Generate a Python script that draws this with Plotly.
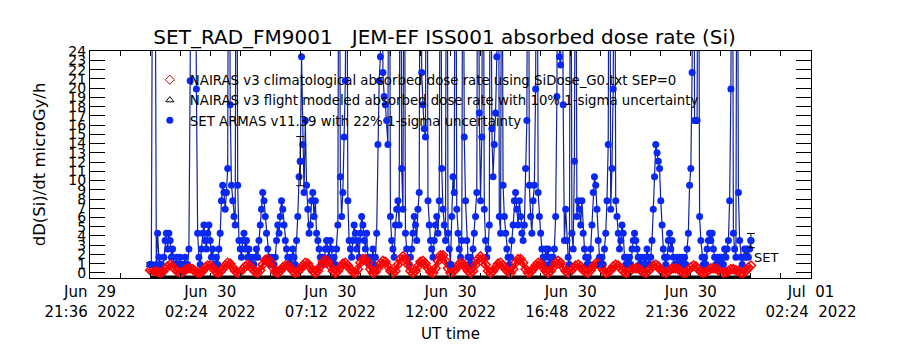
import pandas as pd
import plotly.graph_objects as go

# ---------------- data ----------------
# NAIRAS v3 climatological absorbed dose rate, 6-minute samples from Jun 30 00:00
clim_start = "2022-06-30 00:00"
clim_step = "6min"
clim_dose = [
    0.3, 0.3, 0.2, 0.1, 0.0, 0.1, 0.4, 0.7, 0.9, 0.7,
    0.4, 0.1, 0.0, 0.1, 0.3, 0.5, 0.5, 0.4, 0.2, 0.0,
    0.0, 0.2, 0.6, 0.8, 0.8, 0.6, 0.2, 0.0, 0.1, 0.4,
    0.8, 1.1, 1.0, 0.6, 0.2, 0.0, 0.1, 0.4, 0.7, 0.9,
    0.7, 0.4, 0.1, 0.0, 0.3, 0.9, 1.4, 1.5, 1.2, 0.6,
    0.1, 0.0, 0.2, 0.6, 0.8, 0.8, 0.6, 0.2, 0.0, 0.1,
    0.4, 0.8, 1.1, 1.0, 0.6, 0.2, 0.0, 0.2, 0.7, 1.2,
    1.4, 1.2, 0.7, 0.2, 0.0, 0.2, 0.6, 1.0, 1.1, 0.8,
    0.4, 0.1, 0.0, 0.4, 1.1, 1.5, 1.5, 1.1, 0.4, 0.0,
    0.1, 0.5, 1.0, 1.3, 1.2, 0.7, 0.2, 0.0, 0.2, 0.9,
    1.5, 1.8, 1.5, 0.9, 0.2, 0.0, 0.2, 0.7, 1.2, 1.3,
    1.0, 0.5, 0.1, 0.0, 0.5, 1.3, 1.9, 1.9, 1.3, 0.5,
    0.0, 0.1, 0.4, 0.8, 1.1, 1.0, 0.6, 0.2, 0.0, 0.2,
    0.9, 1.5, 1.8, 1.5, 0.9, 0.2, 0.0, 0.2, 0.6, 1.0,
    1.1, 0.8, 0.4, 0.1, 0.0, 0.4, 1.1, 1.5, 1.5, 1.1,
    0.4, 0.0, 0.1, 0.4, 0.8, 1.1, 1.0, 0.6, 0.2, 0.0,
    0.2, 0.6, 1.1, 1.3, 1.1, 0.6, 0.2, 0.0, 0.2, 0.5,
    0.8, 0.9, 0.7, 0.3, 0.1, 0.0, 0.3, 0.7, 1.0, 1.0,
    0.7, 0.3, 0.0, 0.1, 0.3, 0.7, 0.9, 0.8, 0.5, 0.2,
    0.0, 0.1, 0.3, 0.5, 0.5, 0.5, 0.3, 0.1, 0.0, 0.2,
    0.5, 0.8, 0.9, 0.7, 0.3, 0.1, 0.0, 0.2, 0.4, 0.5,
    0.5, 0.4, 0.2, 0.0, 0.0, 0.3, 0.6, 0.8, 0.7, 0.4,
    0.1, 0.0, 0.1, 0.3, 0.5, 0.5, 0.5, 0.3, 0.1, 0.0,
    0.1, 0.2, 0.4, 0.4, 0.3, 0.2, 0.0, 0.0, 0.2, 0.6,
    0.8,
]

# SET ARMAS v11.39 absorbed dose rate, 3-minute samples from Jun 30 00:00
set_start = "2022-06-30 00:00"
set_step = "3min"
set_dose = [
    0.9, 0.9, 40, 45, 40, 0.9, 4.3, 1.7, 0.9, 0.9, 0, 1.7, 3.5, 4.3, 2.6, 4.3, 3.5, 1.7, 2.6, 0.9,
    0.9, 1.7, 0.9, 0.9, 1.7, 0.9, 0, 0.9, 1.7, 0.9, 0.9, 2.6, 20.8, 50, 55, 50, 45, 19.9, 4.3, 1.7,
    0.9, 2.6, 4.3, 5.2, 3.5, 2.6, 4.3, 5.2, 3.5, 1.7, 2.6, 0.9, 0.9, 1.7, 0.9, 2.6, 4.3, 7.8, 9.5, 8.7,
    6.9, 8.7, 11.3, 60, 18.2, 9.5, 7.8, 6.1, 5.2, 60, 9.5, 3.5, 2.6, 1.7, 3.5, 4.3, 2.6, 3.5, 1.7, 2.6,
    0.9, 1.7, 0.9, 0.9, 1.7, 2.6, 1.7, 3.5, 5.2, 6.9, 8.7, 7.8, 6.1, 4.3, 2.6, 1.7, 0.9, 1.7, 0.9, 0.9,
    1.7, 3.5, 5.2, 4.3, 6.1, 7.8, 6.9, 5.2, 3.5, 2.6, 1.7, 0.9, 1.7, 0.9, 2.6, 1.7, 0.9, 3.5, 6.1, 10.4,
    12.1, 23.4, 13.9, 8.7, 16.5, 9.5, 6.9, 4.3, 5.2, 7.8, 8.7, 6.1, 7.8, 4.3, 3.5, 2.6, 1.7, 0.9, 1.7, 0.9,
    2.6, 3.5, 2.6, 1.7, 3.5, 2.6, 0.9, 1.7, 0.9, 2.6, 5.2, 55, 10.4, 6.1, 8.7, 14.7, 20.8, 50, 7.8, 3.5,
    2.6, 1.7, 3.5, 5.2, 4.3, 2.6, 3.5, 1.7, 4.3, 6.1, 5.2, 3.5, 2.6, 4.3, 1.7, 0.9, 1.7, 0.9, 2.6, 0.9,
    1.7, 4.3, 13.9, 20.8, 23.4, 60, 21.7, 19.1, 18.2, 16.5, 13.9, 55, 6.1, 3.5, 2.6, 1.7, 5.2, 6.9, 7.8, 5.2,
    60, 11.3, 6.9, 50, 4.3, 2.6, 1.7, 0.9, 1.7, 2.6, 4.3, 6.1, 5.2, 3.5, 6.9, 8.7, 55, 21.7, 18.2, 15.6,
    14.7, 60, 7.8, 5.2, 3.5, 2.6, 1.7, 3.5, 5.2, 6.1, 4.3, 7.8, 50, 11.3, 6.9, 5.2, 3.5, 60, 4.3, 2.6,
    0.9, 6.1, 10.4, 8.7, 60, 6.9, 4.3, 2.6, 1.7, 3.5, 50, 14.7, 7.8, 3.5, 1.7, 0.9, 1.7, 0.9, 2.6, 4.3,
    6.1, 8.7, 55, 17.3, 7.8, 14.7, 50, 6.9, 3.5, 1.7, 2.6, 5.2, 55, 15.6, 10.4, 13.9, 17.3, 23.4, 60, 6.1,
    4.3, 50, 9.5, 6.1, 4.3, 2.6, 1.7, 0.9, 1.7, 3.5, 5.2, 7.8, 8.7, 6.9, 5.2, 7.8, 6.1, 4.3, 3.5, 5.2,
    11.3, 16.5, 60, 9.5, 6.1, 4.3, 7.8, 9.5, 19.9, 55, 8.7, 6.1, 4.3, 2.6, 1.7, 0.9, 2.6, 1.7, 2.6, 0.9,
    1.7, 0.9, 1.7, 2.6, 6.1, 19.1, 60, 23.4, 22.5, 55, 18.2, 3.5, 6.9, 3.5, 1.7, 0.9, 55, 4.3, 2.6, 12.1,
    50, 6.1, 7.8, 6.9, 5.2, 7.8, 4.3, 2.6, 1.7, 0.9, 1.7, 0.9, 2.6, 5.2, 8.7, 10.4, 9.5, 6.9, 3.5, 1.7,
    0.9, 1.7, 0.9, 2.6, 4.3, 7.8, 13.9, 60, 6.9, 11.3, 19.9, 55, 7.8, 6.1, 4.3, 2.6, 3.5, 5.2, 4.3, 1.7,
    0.9, 1.7, 0.9, 1.7, 0.9, 2.6, 3.5, 4.3, 3.5, 2.6, 1.7, 0.9, 1.7, 0.9, 0.9, 1.7, 0.9, 2.6, 1.7, 0.9,
    1.7, 3.5, 6.9, 10.4, 13.9, 13.0, 12.1, 11.3, 7.8, 5.2, 2.6, 1.7, 0.9, 1.7, 3.5, 4.3, 2.6, 3.5, 1.7, 0.9,
    0.9, 1.7, 0.9, 1.7, 0.9, 1.7, 0.9, 1.7, 0.9, 2.6, 4.3, 9.5, 11.3, 21.7, 60, 16.5, 16.5, 16.5, 55, 6.1,
    3.5, 1.7, 0.9, 1.7, 0.9, 2.6, 3.5, 4.3, 3.5, 4.3, 2.6, 1.7, 0.9, 1.7, 0.9, 1.7, 0.9, 1.7, 0.9, 2.6,
    1.7, 2.6, 3.5, 7.8, 19.9, 60, 4.3, 2.6, 1.7, 55, 8.7, 3.5, 1.7, 0.9, 1.7, 2.6, 1.7, 2.6, 1.7, 2.6,
    3.5,
]

# NAIRAS v3 flight modeled absorbed dose rate, hourly samples (sits on the lower axis)
flight_start = "2022-06-30 00:00"
flight_step = "1h"
flight_dose = [
    -0.45, -0.45, -0.45, -0.45, -0.45, -0.45, -0.45, -0.45, -0.45, -0.45,
    -0.45, -0.45, -0.45, -0.45, -0.45, -0.45, -0.45, -0.45, -0.45, -0.45,
    -0.45, -0.45, -0.45, -0.45, -0.45,
]

# SET samples that carry 1-sigma error bars
set_err_times = ["2022-06-30 00:00", "2022-06-30 06:00", "2022-06-30 12:00",
                 "2022-06-30 18:00", "2022-07-01 00:00"]
set_sigma = 0.22

x_range = ["2022-06-29 21:36", "2022-07-01 02:24"]
y_range = [-0.55, 24.02]

legend_labels = [
    "NAIRAS v3 climatological absorbed dose rate using SiDose_G0.txt SEP=0",
    "NAIRAS v3 flight modeled absorbed dose rate with 10% 1-sigma uncertainty",
    "SET ARMAS v11.39 with 22% 1-sigma uncertainty",
]
title_text = "SET_RAD_FM9001\u00a0\u00a0\u00a0JEM-EF ISS001 absorbed dose rate (Si)"

# ---------------- styling ----------------
FONT = "DejaVu Sans"
RED = "#ff0000"
BLUE_MARK = "#0a28f5"
BLUE_LINE = "#12239a"

clim_t = pd.date_range(clim_start, periods=len(clim_dose), freq=clim_step)
set_t = pd.date_range(set_start, periods=len(set_dose), freq=set_step)
flight_t = pd.date_range(flight_start, periods=len(flight_dose), freq=flight_step)
set_series = pd.Series(set_dose, index=set_t)
err_t = pd.to_datetime(set_err_times)
err_v = set_series.loc[err_t].values

fig = go.Figure()

fig.add_trace(go.Scatter(
    x=flight_t, y=flight_dose, mode="lines",
    line=dict(color="black", width=3), showlegend=False, hoverinfo="skip"))

fig.add_trace(go.Scatter(
    x=set_t, y=set_dose, mode="lines+markers",
    line=dict(color=BLUE_LINE, width=1.2),
    marker=dict(symbol="circle", size=7, color=BLUE_MARK),
    showlegend=False))

fig.add_trace(go.Scatter(
    x=clim_t, y=clim_dose, mode="lines+markers",
    line=dict(color=RED, width=3.5),
    marker=dict(symbol="diamond-open", size=7, color=RED, line=dict(width=1.5)),
    showlegend=False))

fig.add_trace(go.Scatter(
    x=err_t, y=err_v, mode="markers",
    marker=dict(symbol="circle", size=7, color=BLUE_MARK),
    error_y=dict(type="data", array=err_v * set_sigma, color="black",
                 thickness=1, width=4),
    showlegend=False))

# legend entries (symbol only, as in the reference)
fig.add_trace(go.Scatter(x=[None], y=[None], mode="markers", name=legend_labels[0],
                         marker=dict(symbol="diamond-open", size=7, color="#c00000",
                                     line=dict(width=1))))
fig.add_trace(go.Scatter(x=[None], y=[None], mode="markers", name=legend_labels[1],
                         marker=dict(symbol="triangle-up-open", size=7, color="black",
                                     line=dict(width=1))))
fig.add_trace(go.Scatter(x=[None], y=[None], mode="markers", name=legend_labels[2],
                         marker=dict(symbol="circle", size=7, color=BLUE_MARK)))

fig.add_annotation(x=set_t[-1], y=1.7, text="SET", showarrow=False,
                   xanchor="left", yanchor="middle", xshift=1,
                   font=dict(family=FONT, size=13, color="black"))

fig.update_layout(
    width=900, height=350,
    margin=dict(l=90, r=89, t=51, b=72),
    paper_bgcolor="white", plot_bgcolor="white",
    font=dict(family=FONT, color="black"),
    title=dict(text=title_text, x=0.494, xanchor="center", y=0.894, yanchor="middle",
               font=dict(family=FONT, size=20, color="black")),
    legend=dict(x=0.083, y=0.94, xanchor="left", yanchor="top",
                bgcolor="rgba(0,0,0,0)", borderwidth=0,
                font=dict(family=FONT, size=13.3, color="black"),
                itemwidth=30, tracegroupgap=0),
    showlegend=True,
)

fig.update_xaxes(
    type="date", range=x_range,
    showline=True, linecolor="black", linewidth=1, mirror="allticks",
    ticks="inside", ticklen=5, tickcolor="black",
    tickmode="linear", tick0="2022-06-29 21:36", dtick=4.8 * 3600 * 1000,
    tickformat="%b\u00a0\u00a0%d<br>%H:%M\u00a0\u00a0%Y",
    tickfont=dict(family=FONT, size=15, color="black"),
    minor=dict(ticks="inside", ticklen=5, tickcolor="black",
               tick0="2022-06-29 21:36", dtick=1.2 * 3600 * 1000, showgrid=False),
    showgrid=False, zeroline=False,
    title=dict(text="UT time", font=dict(family=FONT, size=15, color="black"), standoff=8),
)

fig.update_yaxes(
    range=y_range,
    showline=True, linecolor="black", linewidth=1, mirror="allticks",
    ticks="inside", ticklen=15, tickcolor="black",
    tickmode="linear", tick0=0, dtick=1,
    tickfont=dict(family=FONT, size=14, color="black"),
    showgrid=False, zeroline=False,
    title=dict(text="dD(Si)/dt microGy/h", font=dict(family=FONT, size=16.5, color="black"),
               standoff=18),
)

fig.write_html("out.html")
